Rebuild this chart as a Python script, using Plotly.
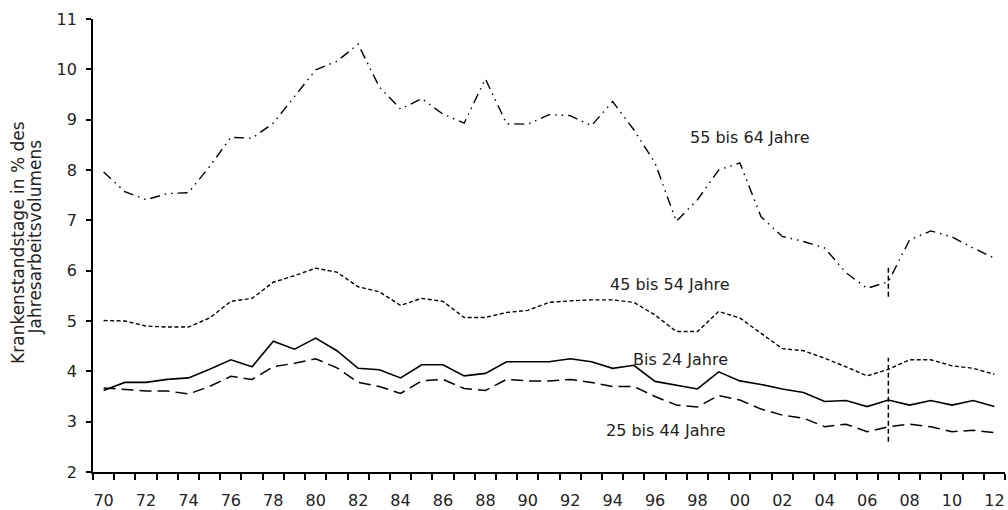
import plotly.graph_objects as go

years = list(range(1970, 2013))
tick_years = list(range(1970, 2013, 2))
tick_labels = [f"{y % 100:02d}" for y in tick_years]

bis_24 = [3.62, 3.78, 3.78, 3.84, 3.87, 4.04, 4.23, 4.09, 4.60, 4.44,
          4.66, 4.41, 4.06, 4.03, 3.87, 4.13, 4.13, 3.91, 3.96, 4.19,
          4.19, 4.19, 4.25, 4.19, 4.06, 4.12, 3.80, 3.73, 3.65, 3.99,
          3.81, 3.74, 3.65, 3.58, 3.40, 3.42, 3.30, 3.43, 3.33, 3.42,
          3.33, 3.42, 3.30]
j25_44 = [3.67, 3.64, 3.61, 3.61, 3.55, 3.70, 3.90, 3.84, 4.09, 4.16,
          4.25, 4.07, 3.78, 3.70, 3.56, 3.81, 3.84, 3.66, 3.62, 3.84,
          3.81, 3.81, 3.84, 3.78, 3.70, 3.70, 3.50, 3.33, 3.29, 3.52,
          3.43, 3.25, 3.13, 3.07, 2.90, 2.95, 2.80, 2.90, 2.95, 2.90,
          2.80, 2.83, 2.78]
j45_54 = [5.01, 5.00, 4.90, 4.88, 4.88, 5.06, 5.39, 5.45, 5.77, 5.90,
          6.05, 5.97, 5.68, 5.58, 5.31, 5.45, 5.39, 5.07, 5.07, 5.17,
          5.21, 5.37, 5.40, 5.42, 5.42, 5.37, 5.12, 4.79, 4.79, 5.19,
          5.06, 4.76, 4.45, 4.41, 4.26, 4.09, 3.91, 4.04, 4.23, 4.23,
          4.11, 4.06, 3.94]
j55_64 = [7.96, 7.57, 7.41, 7.53, 7.55, 8.07, 8.65, 8.63, 8.93, 9.46,
          9.99, 10.16, 10.50, 9.65, 9.21, 9.42, 9.11, 8.93, 9.81, 8.92,
          8.91, 9.10, 9.08, 8.88, 9.36, 8.80, 8.14, 6.98, 7.41, 8.00,
          8.14, 7.07, 6.68, 6.58, 6.45, 5.96, 5.65, 5.78, 6.61, 6.79,
          6.67, 6.45, 6.25]

series_names = ["55 bis 64 Jahre", "45 bis 54 Jahre", "Bis 24 Jahre", "25 bis 44 Jahre"]
label_x = [2000.5, 1996.7, 1997.2, 1996.5]
label_y = [8.64, 5.72, 4.23, 2.82]

y_title_lines = ["Krankenstandstage in % des", "Jahresarbeitsvolumens"]

break_year = 2007
break_upper = [5.48, 6.12]
break_lower = [2.60, 4.27]

FONT = "DejaVu Sans"
TXT = "#222222"

fig = go.Figure()
styles = [
    (j55_64, "10px,5px,1.5px,5px,1.5px,5px", 1.4),
    (j45_54, "4px,2.5px", 1.4),
    (bis_24, "solid", 1.6),
    (j25_44, "12px,6px", 1.5),
]
for (vals, dash, w), name in zip(styles, series_names):
    fig.add_trace(go.Scatter(x=years, y=vals, mode="lines", name=name,
                             line=dict(color="black", width=w, dash=dash),
                             showlegend=False))

for yr in (break_upper, break_lower):
    fig.add_trace(go.Scatter(x=[break_year, break_year], y=yr, mode="lines",
                             line=dict(color="black", width=1.5, dash="5px,3px"),
                             showlegend=False, hoverinfo="skip"))

for name, x, y in zip(series_names, label_x, label_y):
    fig.add_annotation(x=x, y=y, text=name, showarrow=False,
                       font=dict(family=FONT, size=16, color=TXT))

# y-axis title as two rotated lines (tight line spacing as in the reference)
for txt, px, py in zip(y_title_lines, [-0.0816, -0.0636], [0.507, 0.52]):
    fig.add_annotation(xref="paper", yref="paper", x=px, y=py, text=txt,
                       textangle=-90, showarrow=False,
                       xanchor="center", yanchor="middle",
                       font=dict(family=FONT, size=17, color=TXT))

fig.update_layout(
    width=1008, height=510,
    margin=dict(l=93, r=3, t=19, b=38, autoexpand=False),
    paper_bgcolor="white", plot_bgcolor="white",
    font=dict(family=FONT, size=16, color=TXT),
)
fig.update_xaxes(
    range=[1969.5, 2012.5], showgrid=False, zeroline=False, automargin=False,
    showline=True, linecolor="black", linewidth=1.8,
    tickmode="array", tickvals=tick_years, ticktext=tick_labels,
    ticks="", ticklabelstandoff=13,
    minor=dict(ticks="outside", ticklen=6, tickcolor="black", tickwidth=1.5,
               tick0=1969.5, dtick=1, showgrid=False),
)
fig.update_yaxes(
    range=[2, 11], dtick=1, showgrid=False, zeroline=False, automargin=False,
    showline=True, linecolor="black", linewidth=1.8,
    ticks="outside", ticklen=5, tickcolor="black", tickwidth=1.5,
    ticklabelstandoff=6,
)
fig.write_html("out.html", config={"displayModeBar": False},
               post_script="document.body.style.margin='0';document.body.style.overflow='hidden';")
